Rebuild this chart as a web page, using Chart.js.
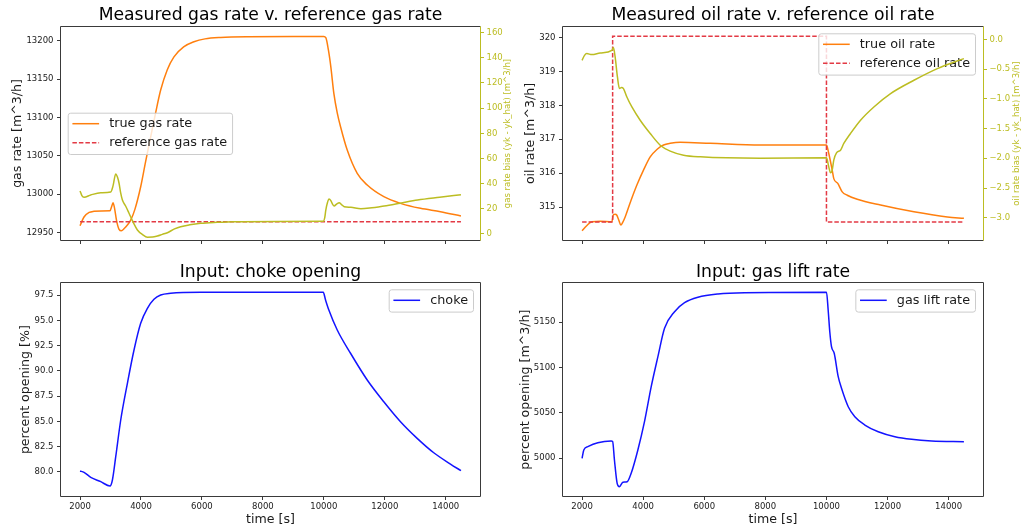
<!DOCTYPE html>
<html>
<head>
<meta charset="utf-8">
<script src="https://cdn.jsdelivr.net/npm/chart.js@4.4.0/dist/chart.umd.min.js"></script>
<style>
html, body { margin: 0; padding: 0; background: #fff; }
body { width: 1023px; height: 529px; position: relative; overflow: hidden; }
canvas { position: absolute; }
</style>
</head>
<body>
<canvas id="gasChart" width="516" height="262" style="left:0px;top:0px"></canvas>
<canvas id="oilChart" width="512" height="262" style="left:511px;top:0px"></canvas>
<canvas id="chokeChart" width="511" height="267" style="left:0px;top:262px"></canvas>
<canvas id="liftChart" width="512" height="267" style="left:511px;top:262px"></canvas>
<script>
// --- data (time in seconds) ---
const timeTicks = [2000, 4000, 6000, 8000, 10000, 12000, 14000];

const gasTime = [2000, 2130, 2300, 2459, 2700, 2984, 3040, 3082, 3130, 3200, 3280, 3357, 3450, 3560, 3662, 3800, 3990, 4150, 4318, 4480, 4646, 4860, 5082, 5400, 5738, 6100, 6614, 7500, 9000, 10000, 10065, 10150, 10230, 10330, 10440, 10549, 10768, 11096, 11424, 11969, 12516, 13172, 13828, 14500];
const gasTrue = [12958.6, 12970, 12976, 12977.5, 12978, 12978.2, 12984, 12988.6, 12982, 12965, 12954, 12952.1, 12955, 12960, 12966, 12980, 13009.5, 13042, 13074.7, 13106, 13135.7, 13162, 13179, 13192, 13198.7, 13202.5, 13204.4, 13205.3, 13205.5, 13205.5, 13204, 13188, 13166, 13131, 13106, 13087.8, 13057.4, 13027, 13011.7, 12996.5, 12987.8, 12981.3, 12976.9, 12971.3];
const gasRefTime = [2000, 14500];
const gasRef = [12963.8, 12963.8];
const gasBiasTime = [2000, 2060, 2131, 2350, 2679, 3007, 3080, 3171, 3230, 3280, 3330, 3390, 3500, 3607, 3750, 3882, 4050, 4210, 4380, 4538, 4700, 4866, 5100, 5302, 5600, 5958, 6500, 7050, 8500, 9981, 10030, 10065, 10120, 10170, 10230, 10290, 10340, 10420, 10505, 10580, 10669, 10888, 11216, 11500, 11980, 12500, 13076, 13800, 14500];
const gasBias = [34.2, 30.5, 29.2, 31, 32.8, 33.4, 38, 47.7, 45, 40.3, 33, 27, 22, 16.5, 9, 3.2, -0.5, -2.6, -2.5, -1.6, -0.3, 1, 4, 5.8, 7.3, 8.5, 9.3, 9.8, 10, 10.1, 13, 19, 25, 27.8, 26.5, 23.5, 22.3, 23.8, 24.9, 23.3, 21.7, 21.2, 20.1, 20.6, 22.3, 24.5, 27, 29.2, 31.2];

const oilTime = [2000, 2150, 2318, 2600, 2974, 3026, 3080, 3138, 3200, 3269, 3330, 3410, 3574, 3794, 4010, 4230, 4449, 4666, 4885, 5213, 6197, 7837, 10001, 10076, 10188, 10240, 10371, 10516, 10680, 11008, 11772, 12864, 13959, 14500];
const oilTrue = [314.30, 314.45, 314.57, 314.58, 314.57, 314.78, 314.79, 314.76, 314.62, 314.47, 314.55, 314.71, 315.13, 315.65, 316.09, 316.48, 316.70, 316.83, 316.88, 316.91, 316.88, 316.83, 316.83, 316.58, 316.09, 315.84, 315.70, 315.45, 315.35, 315.23, 315.06, 314.86, 314.71, 314.67];
const oilRefTime = [2000, 3000, 3000, 10000, 10000, 14500];
const oilRef = [314.56, 314.56, 320.04, 320.04, 314.56, 314.56];
const oilBiasTime = [2000, 2080, 2154, 2318, 2590, 2974, 3026, 3082, 3157, 3223, 3290, 3354, 3466, 3630, 3902, 4230, 4558, 4885, 5322, 5869, 7837, 10001, 10076, 10132, 10188, 10240, 10329, 10460, 10568, 10788, 11116, 11552, 12099, 12864, 13631, 14500];
const oilBias = [-0.353, -0.27, -0.240, -0.257, -0.230, -0.185, -0.139, -0.297, -0.633, -0.828, -0.81, -0.828, -0.969, -1.137, -1.360, -1.583, -1.780, -1.880, -1.948, -1.976, -2.000, -1.993, -2.144, -2.245, -2.20, -2.03, -1.909, -1.864, -1.751, -1.583, -1.360, -1.137, -0.912, -0.688, -0.492, -0.324];

const chokeTime = [2000, 2131, 2351, 2679, 2984, 3062, 3171, 3335, 3554, 3771, 3990, 4210, 4426, 4646, 4974, 5958, 9981, 10057, 10165, 10440, 10876, 11424, 11968, 12516, 13063, 13608, 14155, 14500];
const choke = [80.07, 79.94, 79.44, 79.01, 78.58, 79.18, 81.49, 85.13, 88.77, 92.07, 94.72, 96.21, 97.10, 97.53, 97.70, 97.80, 97.80, 97.03, 96.04, 94.06, 91.75, 89.10, 86.94, 84.96, 83.31, 81.88, 80.76, 80.10];

const liftTime = [2000, 2056, 2187, 2515, 2951, 3000, 3059, 3148, 3223, 3335, 3476, 3607, 3826, 4043, 4263, 4482, 4699, 5027, 5355, 5794, 6450, 7322, 10001, 10056, 10109, 10165, 10254, 10385, 10493, 10713, 10929, 11257, 11696, 12241, 12788, 13444, 14500];
const lift = [5000.0, 5009.2, 5012.8, 5017.2, 5019.1, 5018.5, 4998.1, 4972.4, 4968.7, 4973.5, 4974.2, 4983.5, 5009.2, 5040.4, 5079.0, 5112.1, 5143.4, 5161.7, 5171.6, 5177.6, 5181.2, 5182.6, 5183.1, 5163.6, 5139.6, 5123.1, 5115.8, 5090.0, 5077.2, 5056.9, 5045.9, 5036.7, 5029.3, 5023.8, 5020.9, 5019.1, 5018.3];

// --- styling ---
const FONT = 'DejaVu Sans';
const OLIVE = '#bcbd22';
const ORANGE = '#ff7f0e';
const RED = '#e33a45';
const BLUE = '#1414ff';
const FRAME = '#3a3a3a';
const TEXT = '#1a1a1a';
const X_MIN = 1375, X_MAX = 15125;

Chart.defaults.font.family = FONT;
Chart.defaults.color = TEXT;

const pts = (ts, vs) => ts.map((t, i) => ({ x: t, y: vs[i] }));
const minus = s => s.replace('-', '\u2212');

function line(label, ts, vs, color, extra) {
    return Object.assign({
        label: label,
        data: pts(ts, vs),
        borderColor: color,
        borderWidth: 1.5,
        pointRadius: 0,
        cubicInterpolationMode: 'monotone',
        fill: false
    }, extra || {});
}

function xScale(showLabels, height) {
    return {
        type: 'linear',
        min: X_MIN,
        max: X_MAX,
        afterBuildTicks(s) { s.ticks = timeTicks.map(v => ({ value: v })); },
        ticks: {
            display: showLabels,
            padding: 1.6,
            maxRotation: 0,
            autoSkip: false,
            color: TEXT,
            font: { size: 8.5 },
            callback: v => String(v)
        },
        grid: { drawOnChartArea: false, tickLength: 4, tickColor: FRAME },
        border: { display: false },
        title: showLabels
            ? { display: true, text: 'time [s]', color: TEXT, font: { size: 12.6 }, padding: { top: 0, bottom: 2.1 } }
            : { display: false },
        afterFit(s) { s.height = height; }
    };
}

function yScale(o) {
    return {
        type: 'linear',
        position: o.position || 'left',
        min: o.min,
        max: o.max,
        ticks: {
            stepSize: o.step,
            includeBounds: false,
            padding: o.pad,
            color: o.color || TEXT,
            font: { size: 8.5 },
            callback: o.fmt || (v => String(v))
        },
        grid: { drawOnChartArea: false, tickLength: 4, tickColor: o.color || FRAME },
        border: { display: false },
        title: o.title
            ? { display: true, text: o.title, color: TEXT, font: { size: 12.6 }, padding: { top: o.titlePad, bottom: 0 } }
            : { display: false },
        afterFit(s) { s.width = o.width; }
    };
}

function titleOpts(text, top, bottom) {
    return {
        display: true,
        text: text,
        fullSize: false,
        color: '#000',
        font: { size: 17.2, weight: 'normal' },
        padding: { top: top, bottom: bottom }
    };
}

// axes frame, matplotlib style spines
function framePlugin(rightColor) {
    return {
        id: 'frame',
        afterDatasetsDraw(chart) {
            const { ctx, chartArea: a } = chart;
            const L = Math.round(a.left) - 0.5, R = Math.round(a.right) + 0.5;
            const T = Math.round(a.top) - 0.5, B = Math.round(a.bottom) + 0.5;
            ctx.save();
            ctx.lineWidth = 1;
            ctx.strokeStyle = FRAME;
            ctx.beginPath();
            ctx.moveTo(R, T); ctx.lineTo(L, T); ctx.lineTo(L, B); ctx.lineTo(R, B);
            ctx.stroke();
            ctx.strokeStyle = rightColor || FRAME;
            ctx.beginPath();
            ctx.moveTo(R, T); ctx.lineTo(R, B);
            ctx.stroke();
            ctx.restore();
        }
    };
}

// legend box placed inside the axes
function legendPlugin(opt) {
    return {
        id: 'boxLegend',
        afterDatasetDraw(chart, args) {
            if (args.index !== opt.after) return;
            const ctx = chart.ctx;
            ctx.save();
            ctx.font = '12.8px "' + FONT + '"';
            const labels = opt.items.map(i => chart.data.datasets[i].label);
            const textW = Math.max(...labels.map(l => ctx.measureText(l).width));
            const w = 41.5 + textW + 5;
            const h = 22.3 + 19 * (opt.items.length - 1);
            const x = opt.left !== undefined ? opt.left : opt.right - w;
            const y = opt.top;
            ctx.beginPath();
            ctx.roundRect(x + 0.5, y + 0.5, w, h, 2.5);
            ctx.fillStyle = 'rgba(255,255,255,0.8)';
            ctx.fill();
            ctx.strokeStyle = '#cccccc';
            ctx.lineWidth = 1;
            ctx.stroke();
            opt.items.forEach((di, k) => {
                const ds = chart.data.datasets[di];
                const cy = y + 11 + 19 * k;
                ctx.beginPath();
                ctx.setLineDash(ds.borderDash || []);
                ctx.strokeStyle = ds.borderColor;
                ctx.lineWidth = ds.borderWidth;
                ctx.moveTo(x + 4.7, cy);
                ctx.lineTo(x + 31.4, cy);
                ctx.stroke();
                ctx.setLineDash([]);
                ctx.fillStyle = TEXT;
                ctx.textAlign = 'left';
                ctx.textBaseline = 'middle';
                ctx.fillText(labels[k], x + 41.5, cy);
            });
            ctx.restore();
        }
    };
}

// twin axis label, rotated the same way as the left one
function rightLabelPlugin(text, x) {
    return {
        id: 'rightLabel',
        afterDraw(chart) {
            const { ctx, chartArea: a } = chart;
            ctx.save();
            ctx.translate(x, (a.top + a.bottom) / 2);
            ctx.rotate(-Math.PI / 2);
            ctx.font = '8.5px "' + FONT + '"';
            ctx.fillStyle = OLIVE;
            ctx.textAlign = 'center';
            ctx.textBaseline = 'middle';
            ctx.fillText(text, 0, 0);
            ctx.restore();
        }
    };
}

const base = { responsive: false, animation: false, devicePixelRatio: 1 };

// 1. gas rate vs reference
new Chart(document.getElementById('gasChart'), {
    type: 'line',
    data: {
        datasets: [
            line('true gas rate', gasTime, gasTrue, ORANGE, { order: 3 }),
            line('reference gas rate', gasRefTime, gasRef, RED, { order: 2, borderDash: [4.5, 2], cubicInterpolationMode: 'default', tension: 0 }),
            line('gas bias', gasBiasTime, gasBias, OLIVE, { order: 1, yAxisID: 'y1' })
        ]
    },
    options: Object.assign({}, base, {
        layout: { padding: 0, autoPadding: false },
        plugins: {
            legend: { display: false },
            tooltip: { enabled: false },
            title: titleOpts('Measured gas rate v. reference gas rate', 5.4, 0.96)
        },
        scales: {
            x: xScale(false, 22),
            y: yScale({ min: 12940, max: 13218, step: 50, pad: 3.5, width: 61, title: 'gas rate [m^3/h]', titlePad: 10.4 }),
            y1: yScale({ position: 'right', min: -4.8, max: 164.5, step: 20, pad: 2.5, width: 36, color: OLIVE })
        }
    }),
    plugins: [framePlugin(OLIVE), legendPlugin({ left: 67.7, top: 112.7, items: [0, 1], after: 1 }),
              rightLabelPlugin('gas rate bias (yk - yk_hat) [m^3/h]', 508)]
});

// 2. oil rate vs reference
new Chart(document.getElementById('oilChart'), {
    type: 'line',
    data: {
        datasets: [
            line('true oil rate', oilTime, oilTrue, ORANGE, { order: 3 }),
            line('reference oil rate', oilRefTime, oilRef, RED, { order: 2, borderDash: [4.5, 2], cubicInterpolationMode: 'default', tension: 0 }),
            line('oil bias', oilBiasTime, oilBias, OLIVE, { order: 1, yAxisID: 'y1' })
        ]
    },
    options: Object.assign({}, base, {
        layout: { padding: 0, autoPadding: false },
        plugins: {
            legend: { display: false },
            tooltip: { enabled: false },
            title: titleOpts('Measured oil rate v. reference oil rate', 5.4, 0.96)
        },
        scales: {
            x: xScale(false, 22),
            y: yScale({ min: 314.03, max: 320.31, step: 1, pad: 3.5, width: 52, title: 'oil rate [m^3/h]', titlePad: 12.4 }),
            y1: yScale({ position: 'right', min: -3.374, max: 0.207, step: 0.5, pad: 2.5, width: 40, color: OLIVE,
                         fmt: v => minus(v.toFixed(1)) })
        }
    }),
    plugins: [framePlugin(OLIVE), legendPlugin({ right: 464, top: 33.3, items: [0, 1], after: 1 }),
              rightLabelPlugin('oil rate bias (yk - yk_hat) [m^3/h]', 506)]
});

// 3. choke opening input
new Chart(document.getElementById('chokeChart'), {
    type: 'line',
    data: { datasets: [line('choke', chokeTime, choke, BLUE)] },
    options: Object.assign({}, base, {
        layout: { padding: { left: 0, top: 0, bottom: 0, right: 31 }, autoPadding: false },
        plugins: {
            legend: { display: false },
            tooltip: { enabled: false },
            title: titleOpts('Input: choke opening', 0, 0.66)
        },
        scales: {
            x: xScale(true, 33),
            y: yScale({ min: 77.59, max: 98.69, step: 2.5, pad: 3.5, width: 61, title: 'percent opening [%]', titlePad: 17.8,
                        fmt: v => v.toFixed(1) })
        }
    }),
    plugins: [framePlugin(), legendPlugin({ right: 473, top: 27.3, items: [0], after: 0 })]
});

// 4. gas lift rate input
new Chart(document.getElementById('liftChart'), {
    type: 'line',
    data: { datasets: [line('gas lift rate', liftTime, lift, BLUE)] },
    options: Object.assign({}, base, {
        layout: { padding: { left: 0, top: 0, bottom: 0, right: 40 }, autoPadding: false },
        plugins: {
            legend: { display: false },
            tooltip: { enabled: false },
            title: titleOpts('Input: gas lift rate', 0, 0.66)
        },
        scales: {
            x: xScale(true, 33),
            y: yScale({ min: 4958.4, max: 5193, step: 50, pad: 3.5, width: 52, title: 'percent opening [m^3/h]', titlePad: 7.1 })
        }
    }),
    plugins: [framePlugin(), legendPlugin({ right: 464, top: 27.3, items: [0], after: 0 })]
});
</script>
</body>
</html>
